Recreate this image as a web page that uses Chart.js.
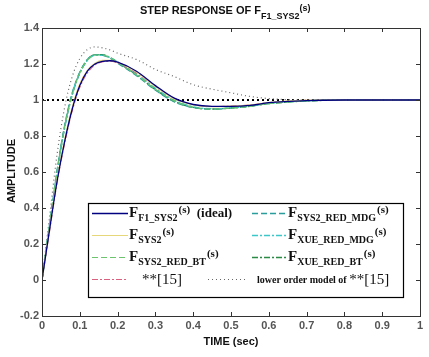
<!DOCTYPE html>
<html>
<head>
<meta charset="utf-8">
<script src="https://cdn.jsdelivr.net/npm/chart.js@4"></script>
<style>
  html, body { margin: 0; padding: 0; background: #fff; }
</style>
</head>
<body>
<canvas id="stepChart" width="429" height="357"></canvas>
<script>
// time axis (sec)
const time = [0, 0.02, 0.04, 0.06, 0.08, 0.1, 0.12, 0.14, 0.16, 0.18, 0.2, 0.25, 0.3, 0.35, 0.4, 0.45, 0.5, 0.55, 0.6, 0.7, 0.8, 0.9, 1.0];

const ideal    = [0, 0.28, 0.55, 0.77, 0.95, 1.08, 1.16, 1.20, 1.215, 1.218, 1.21, 1.16, 1.08, 1.01, 0.975, 0.965, 0.965, 0.97, 0.985, 0.997, 1.0, 1.0, 1.0];
const sys2     = [0, 0.29, 0.56, 0.78, 0.96, 1.09, 1.165, 1.205, 1.22, 1.22, 1.21, 1.155, 1.075, 1.005, 0.972, 0.963, 0.966, 0.972, 0.986, 0.998, 1.0, 1.0, 1.0];
const redBT    = [0, 0.30, 0.60, 0.85, 1.03, 1.15, 1.22, 1.25, 1.25, 1.235, 1.21, 1.14, 1.06, 0.995, 0.96, 0.95, 0.955, 0.965, 0.98, 0.995, 1.0, 1.0, 1.0];
const ref15    = [0, 0.27, 0.54, 0.76, 0.94, 1.07, 1.15, 1.195, 1.212, 1.215, 1.205, 1.15, 1.075, 1.008, 0.974, 0.964, 0.966, 0.972, 0.986, 0.998, 1.0, 1.0, 1.0];
const redMDG   = [0, 0.31, 0.61, 0.86, 1.04, 1.155, 1.225, 1.252, 1.25, 1.232, 1.205, 1.135, 1.055, 0.99, 0.958, 0.95, 0.956, 0.967, 0.982, 0.996, 1.0, 1.0, 1.0];
const xueMDG   = [0, 0.30, 0.60, 0.85, 1.035, 1.15, 1.22, 1.248, 1.248, 1.235, 1.21, 1.145, 1.065, 1.0, 0.962, 0.952, 0.956, 0.966, 0.981, 0.995, 1.0, 1.0, 1.0];
const xueBT    = [0, 0.30, 0.60, 0.85, 1.03, 1.15, 1.222, 1.252, 1.252, 1.236, 1.21, 1.14, 1.058, 0.993, 0.959, 0.95, 0.955, 0.965, 0.98, 0.995, 1.0, 1.0, 1.0];
const lowOrder = [0, 0.35, 0.70, 0.96, 1.13, 1.23, 1.28, 1.295, 1.29, 1.278, 1.26, 1.225, 1.17, 1.13, 1.085, 1.06, 1.04, 1.02, 1.008, 1.0, 1.0, 1.0, 1.0];
const unity    = [1, 1];
const unityTime = [0, 1];

const xTicks = [0, 0.1, 0.2, 0.3, 0.4, 0.5, 0.6, 0.7, 0.8, 0.9, 1];
const yTicks = [-0.2, 0, 0.2, 0.4, 0.6, 0.8, 1, 1.2, 1.4];

// legend text pieces: main letter, subscript, superscript, tail
const legMain = ['F', 'F', 'F', '', 'F', 'F', 'F', ''];
const legSub  = ['F1_SYS2', 'SYS2', 'SYS2_RED_BT', '', 'SYS2_RED_MDG', 'XUE_RED_MDG', 'XUE_RED_BT', ''];
const legSup  = ['(s)', '(s)', '(s)', '', '(s)', '(s)', '(s)', ''];
const legTail = ['  (ideal)', '', '', '**[15]', '', '', '', 'lower order model of '];

const pts = arr => arr.map((v, i) => ({ x: time[i], y: v }));

const series = [
    { data: ideal,    color: '#000080', dash: [],            width: 1.3 },
    { data: sys2,     color: '#e6d87a', dash: [],            width: 1.1 },
    { data: redBT,    color: '#6cc46c', dash: [6, 3],        width: 1.2 },
    { data: ref15,    color: '#d9607e', dash: [6, 2, 2, 2],  width: 1.1 },
    { data: redMDG,   color: '#2a9d9d', dash: [6, 3],        width: 1.3 },
    { data: xueMDG,   color: '#3cc8c8', dash: [6, 2, 2, 2],  width: 1.3 },
    { data: xueBT,    color: '#2a8a46', dash: [6, 2, 2, 2],  width: 1.5 },
    { data: lowOrder, color: '#666666', dash: [1, 3],        width: 1.2 }
];

const datasets = series.map(s => ({
    data: pts(s.data),
    borderColor: s.color,
    borderDash: s.dash,
    borderWidth: s.width,
    pointRadius: 0,
    fill: false,
    cubicInterpolationMode: 'monotone'
}));
datasets.push({
    data: unityTime.map((t, i) => ({ x: t, y: unity[i] })),
    borderColor: '#000',
    borderDash: [2, 3],
    borderWidth: 2.2,
    pointRadius: 0,
    fill: false
});

const SERIF = '"Liberation Serif", "Times New Roman", serif';
const SANS = '"Liberation Sans", Arial, sans-serif';

const decor = {
    id: 'decor',
    afterDraw(chart) {
        const ctx = chart.ctx;
        const a = chart.chartArea;
        const xs = chart.scales.x, ys = chart.scales.y;
        ctx.save();
        // box
        ctx.strokeStyle = '#333';
        ctx.lineWidth = 1;
        ctx.strokeRect(a.left + 0.5, a.top + 0.5, a.right - a.left, a.bottom - a.top);
        // inner tick marks
        ctx.beginPath();
        xTicks.forEach(v => {
            const px = Math.round(xs.getPixelForValue(v)) + 0.5;
            ctx.moveTo(px, a.bottom); ctx.lineTo(px, a.bottom - 4);
            ctx.moveTo(px, a.top); ctx.lineTo(px, a.top + 4);
        });
        yTicks.forEach(v => {
            const py = Math.round(ys.getPixelForValue(v)) + 0.5;
            ctx.moveTo(a.left, py); ctx.lineTo(a.left + 4, py);
            ctx.moveTo(a.right, py); ctx.lineTo(a.right - 4, py);
        });
        ctx.stroke();

        // title
        ctx.fillStyle = '#111';
        ctx.textBaseline = 'alphabetic';
        ctx.textAlign = 'left';
        ctx.font = 'bold 11px ' + SANS;
        let tx = 140;
        const t1 = 'STEP RESPONSE OF F';
        ctx.fillText(t1, tx, 14);
        tx += ctx.measureText(t1).width;
        ctx.font = 'bold 9px ' + SANS;
        ctx.fillText('F1_SYS2', tx, 19);
        tx += ctx.measureText('F1_SYS2').width;
        ctx.font = 'bold 9px ' + SANS;
        ctx.fillText('(s)', tx, 11);

        // axis titles
        ctx.font = 'bold 11px ' + SANS;
        ctx.textAlign = 'center';
        ctx.fillText('TIME (sec)', 231, 345);
        ctx.save();
        ctx.translate(15, 171);
        ctx.rotate(-Math.PI / 2);
        ctx.fillText('AMPLITUDE', 0, 0);
        ctx.restore();

        // legend box
        const L = { x: 88, y: 203, w: 315, h: 94 };
        ctx.fillStyle = '#fff';
        ctx.fillRect(L.x, L.y, L.w, L.h);
        ctx.strokeStyle = '#000';
        ctx.lineWidth = 1.2;
        ctx.strokeRect(L.x + 0.5, L.y + 0.5, L.w, L.h);

        const rows = [213, 235, 257, 279];
        const cols = [{ l0: 92, l1: 128 }, { l0: 252, l1: 287 }];
        series.forEach((s, i) => {
            const col = cols[i < 4 ? 0 : 1];
            const y = rows[i % 4];
            let l0 = col.l0, l1 = col.l1;
            if (i === 7) { l0 = 208; l1 = 247; }
            ctx.save();
            ctx.strokeStyle = s.color;
            ctx.lineWidth = s.width;
            ctx.setLineDash(s.dash);
            ctx.beginPath();
            ctx.moveTo(l0, y + 0.5); ctx.lineTo(l1, y + 0.5);
            ctx.stroke();
            ctx.restore();

            ctx.fillStyle = '#111';
            ctx.textAlign = 'left';
            let x = l1 + 1;
            if (legMain[i]) {
                ctx.font = 'bold 15px ' + SERIF;
                ctx.fillText(legMain[i], x, y + 4);
                x += ctx.measureText(legMain[i]).width;
                ctx.font = 'bold 10px ' + SERIF;
                ctx.fillText(legSub[i], x, y + 8);
                x += ctx.measureText(legSub[i]).width + 1;
                ctx.font = 'bold 11px ' + SERIF;
                ctx.fillText(legSup[i], x, y);
                x += ctx.measureText(legSup[i]).width;
                ctx.font = 'bold 13px ' + SERIF;
                ctx.fillText(legTail[i], x, y + 4);
            } else if (i === 3) {
                ctx.font = '15px ' + SERIF;
                ctx.fillText(legTail[i], 142, y + 5);
            } else {
                ctx.font = 'bold 10px ' + SERIF;
                ctx.fillText(legTail[i], 257, y + 4);
                const w = ctx.measureText(legTail[i]).width;
                ctx.font = '15px ' + SERIF;
                ctx.fillText(legTail[3], 257 + w, y + 5);
            }
        });
        ctx.restore();
    }
};

new Chart(document.getElementById('stepChart'), {
    type: 'line',
    data: { datasets },
    options: {
        responsive: false,
        animation: false,
        layout: { padding: { left: 0, right: 9, top: 28, bottom: 0 } },
        plugins: { legend: { display: false }, tooltip: { enabled: false } },
        scales: {
            x: {
                type: 'linear',
                min: 0, max: 1,
                afterBuildTicks: s => { s.ticks = xTicks.map(v => ({ value: v })); },
                afterFit: s => { s.height = 41; },
                grid: { display: false, drawTicks: false },
                border: { display: false },
                ticks: {
                    padding: 3,
                    maxRotation: 0,
                    color: '#555',
                    font: { family: SANS, size: 11, weight: 'bold' },
                    callback: v => String(Math.round(v * 10) / 10)
                }
            },
            y: {
                min: -0.2, max: 1.4,
                afterBuildTicks: s => { s.ticks = yTicks.map(v => ({ value: v })); },
                afterFit: s => { s.width = 42; },
                grid: { display: false, drawTicks: false },
                border: { display: false },
                ticks: {
                    padding: 3,
                    color: '#555',
                    font: { family: SANS, size: 11, weight: 'bold' },
                    callback: v => String(Math.round(v * 10) / 10)
                }
            }
        }
    },
    plugins: [decor]
});
</script>
</body>
</html>
